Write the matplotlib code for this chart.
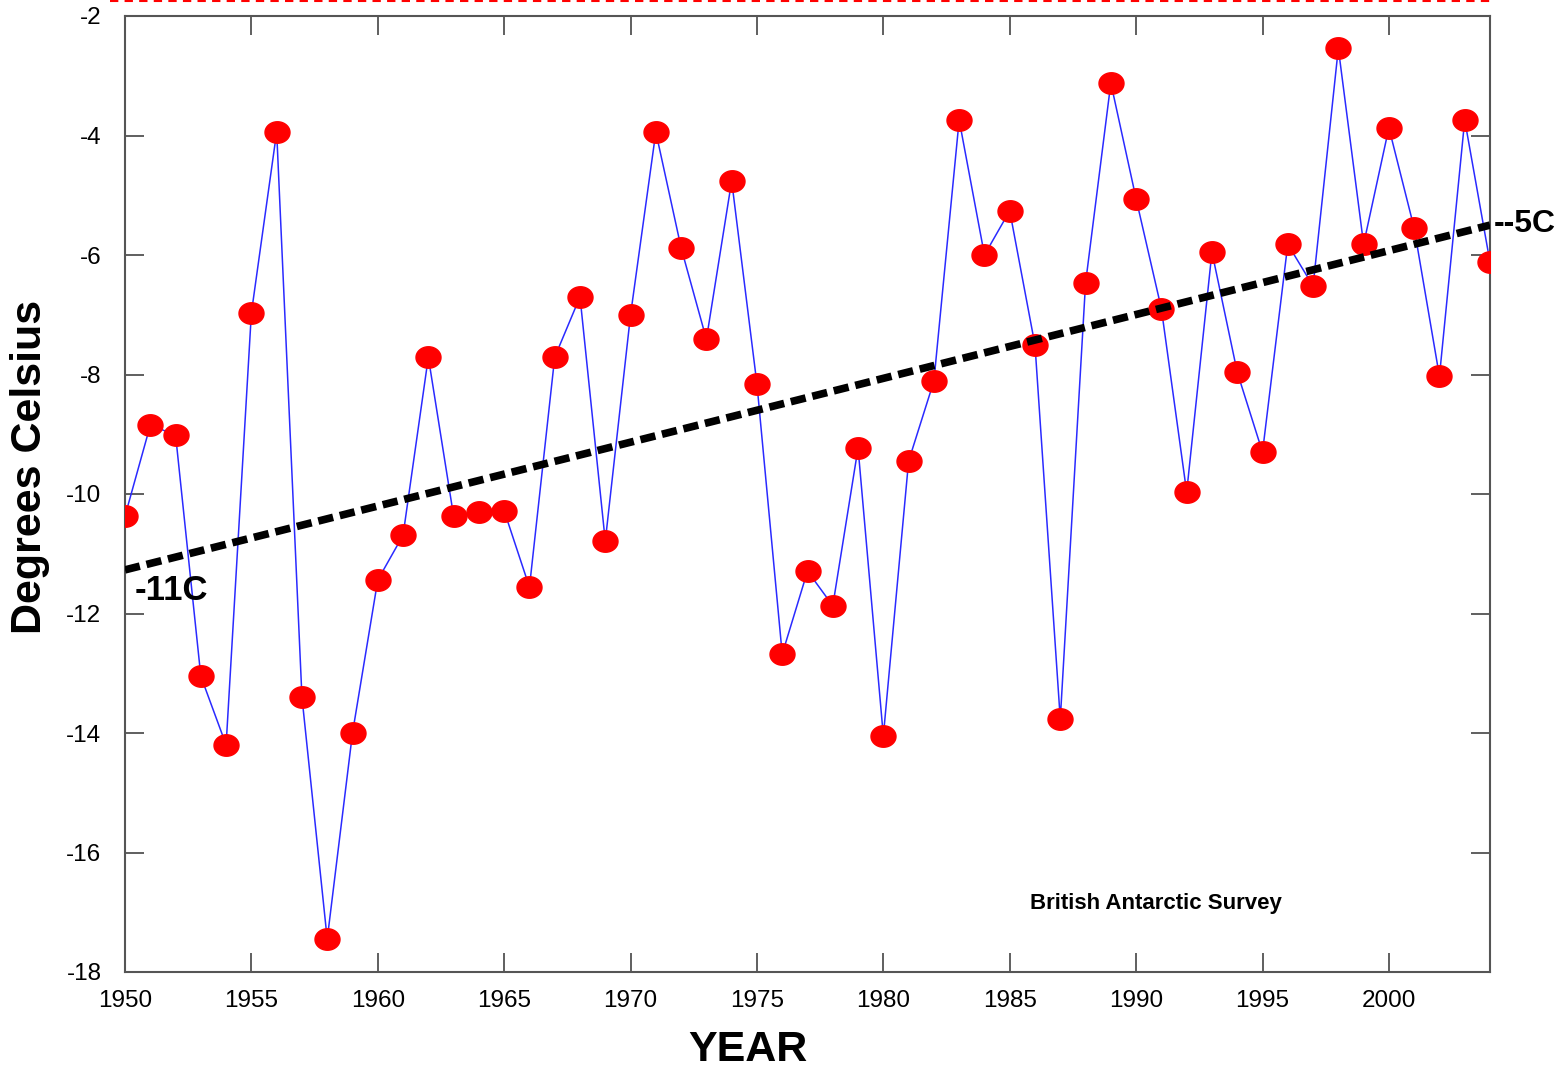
import matplotlib
matplotlib.use("Agg")
import matplotlib.pyplot as plt
import numpy as np
from matplotlib.lines import Line2D
from matplotlib.path import Path

years = list(range(1950, 2005))
temps = [-10.37, -8.85, -9.01, -13.05, -14.2, -6.97, -3.94, -13.4, -17.45, -14.0,
         -11.44, -10.69, -7.71, -10.37, -10.30, -10.28, -11.56, -7.71, -6.70, -10.79,
         -7.0, -3.94, -5.88, -7.41, -4.76, -8.16, -12.68, -11.29, -11.87, -9.23,
         -14.05, -9.45, -8.11, -3.74, -6.0, -5.26, -7.51, -13.77, -6.47, -3.12,
         -5.06, -6.90, -9.97, -5.95, -7.96, -9.30, -5.82, -6.52, -2.54, -5.82,
         -3.87, -5.55, -8.03, -3.74, -6.12]
trend_years = [1950, 2004]
trend_vals = [-11.27, -5.5]
xticks = list(range(1950, 2001, 5))
yticks = list(range(-18, -1, 2))

plt.rcParams['font.family'] = ['Liberation Sans', 'DejaVu Sans']
fig = plt.figure(figsize=(15.66, 10.69), dpi=100)
ax = fig.add_axes([125/1566, 1 - 972/1069, (1490-125)/1566, (972-16)/1069])

t = np.linspace(0, 2*np.pi, 60)
ellipse = Path(np.column_stack([1.0*np.cos(t), 0.86*np.sin(t)]), closed=True)

ax.plot(years, temps, color='#2a2aff', lw=1.1, zorder=2)
ax.plot(years, temps, linestyle='none', marker=ellipse, markersize=18, color='#ff0000',
        markeredgecolor='#ff0000', zorder=3)
ax.plot(trend_years, trend_vals, color='black', lw=5.5, linestyle=(0, (2.0, 0.9)), zorder=4)

ax.set_xlim(1950, 2004)
ax.set_ylim(-18, -2)
ax.set_xticks(xticks)
ax.set_yticks(yticks)
ax.set_xticklabels([str(v) for v in xticks])
ax.set_yticklabels([str(v) for v in yticks])
ax.tick_params(axis='both', direction='in', length=14, width=1.2, top=True, right=True,
               labelsize=17.5, colors='#444444', labelcolor='black')
ax.tick_params(axis='x', pad=13)
ax.tick_params(axis='y', pad=17)
for s in ax.spines.values():
    s.set_color('#555555')
    s.set_linewidth(1.5)

fig.text(748/1566, 1 - 1050/1069, 'YEAR', fontsize=31, fontweight='bold', ha='center', va='center')
fig.text(30/1566, 1 - 467/1069, 'Degrees Celsius', fontsize=31, fontweight='bold',
         ha='center', va='center', rotation=90)

fig.text(135/1566, 1 - 591/1069, '-11C', fontsize=25, fontweight='bold', va='center', ha='left')
fig.text(1494/1566, 1 - 224/1069, '--5C', fontsize=23, fontweight='bold', va='center', ha='left')
fig.text(1030/1566, 1 - 903/1069, 'British Antarctic Survey', fontsize=16, fontweight='bold',
         va='center', ha='left')

fig.add_artist(Line2D([110/1566, 1490/1566], [1 - 1/1069, 1 - 1/1069], color='red',
                      lw=1.5, linestyle=(0, (4, 3)), transform=fig.transFigure))

fig.savefig('out.png', dpi=100, facecolor='white')
